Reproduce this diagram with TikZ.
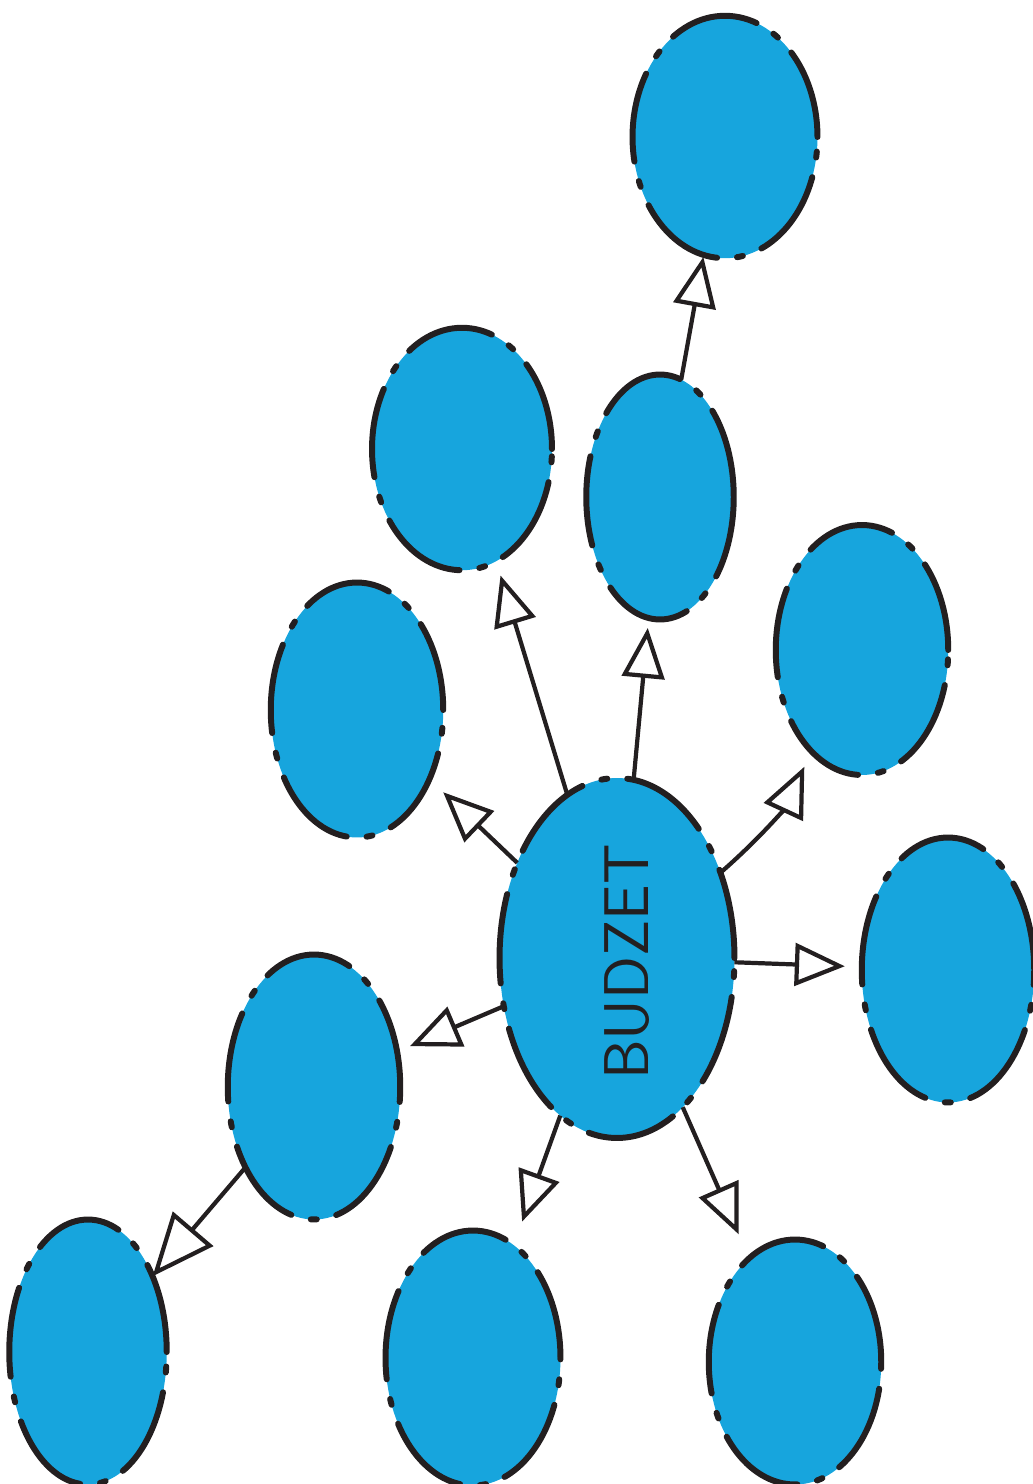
\documentclass[tikz,border=0pt]{standalone}
\usepackage{tikz}
\usetikzlibrary{arrows.meta,shapes.geometric,positioning}
\definecolor{bubbleblue}{HTML}{17A5DD}
\definecolor{ink}{HTML}{231F20}
\tikzstyle{bubble}=[ellipse, fill=bubbleblue, draw=ink, line width=3.4pt,
                    inner sep=0pt, outer sep=0pt, line cap=round,
                    dash pattern=on 1.8cm off 0.4cm on 0.12cm off 0.4cm]
\tikzstyle{edge}  =[draw=ink, line width=2.4pt, line join=round,
                    -{Triangle[open, length=1cm, width=0.85cm]}]
\begin{document}
\begin{tikzpicture}[x=0.02cm, y=-0.02cm]
                \useasboundingbox (0,0) rectangle (1033,1484);
                \node[bubble, minimum width=4.7cm, minimum height=7.2cm] (6) at (617,958) {};
                \node[bubble, minimum width=3.7cm, minimum height=4.85cm] (1) at (725,137) {};
                \node[bubble, minimum width=3.6cm, minimum height=4.85cm] (2) at (462,449) {};
                \node[bubble, minimum width=2.95cm, minimum height=4.9cm] (3) at (660,497) {};
                \node[bubble, minimum width=3.45cm, minimum height=5cm] (4) at (862,650) {};
                \node[bubble, minimum width=3.45cm, minimum height=5.1cm] (5) at (357,710) {};
                \node[bubble, minimum width=3.45cm, minimum height=5.3cm] (7) at (948,970) {};
                \node[bubble, minimum width=3.45cm, minimum height=5.3cm] (8) at (314,1087) {};
                \node[bubble, minimum width=3.15cm, minimum height=5.3cm] (9) at (88,1352) {};
                \node[bubble, minimum width=3.5cm, minimum height=5.1cm] (10) at (473,1358) {};
                \node[bubble, minimum width=3.45cm, minimum height=4.9cm] (11) at (795,1362) {};

                \node[rotate=90, text=ink, font=\sffamily\fontsize{36}{36}\selectfont] (title) at (627,962) {BUDZET};

                \draw[edge, shorten >=0.3cm] (6) to (2);
                \draw[edge, shorten >=0.2cm] (6) to (3);
                \draw[edge, shorten >=0.04cm] (3) to (1);
                \draw[edge, shorten >=0.34cm] (6) to[bend right=12] (4);
                \draw[edge, shorten >=0.38cm] (6) to (5);
                \draw[edge, shorten >=0.34cm] (6) to (7);
                \draw[edge, shorten >=0.28cm] (6) to (8);
                \draw[edge, shorten >=0.5cm] (6) to (10);
                \draw[edge, shorten >=0.52cm] (6) to (11);
                \draw[edge, -{Triangle[open, length=1.25cm, width=1.05cm]}] (8) to (9);

        \end{tikzpicture}
\end{document}
